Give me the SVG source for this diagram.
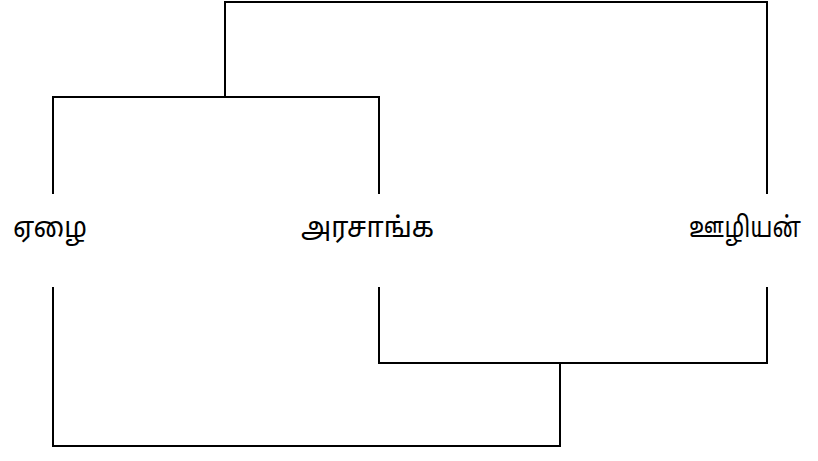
<svg xmlns="http://www.w3.org/2000/svg" width="818" height="461" viewBox="0 0 818 461">
<style>
.c{fill:none;stroke:#000;stroke-width:2;stroke-linecap:square}
.t{font-family:"Noto Sans Tamil","Lohit Tamil","Noto Sans","DejaVu Sans",sans-serif;font-size:28px;fill:#000}
</style>
<rect width="818" height="461" fill="#fff"/>
<g id="connectors">
<polyline class="c" points="53,193 53,97 379,97 379,193"/>
<polyline class="c" points="225,97 225,2 767,2 767,193"/>
<polyline class="c" points="53,288 53,446 560,446 560,363"/>
<polyline class="c" points="379,288 379,363 767,363 767,288"/>
</g>
<g id="n1"><text class="t" x="13" y="237" textLength="74" lengthAdjust="spacingAndGlyphs">ஏழை</text></g>
<g id="n2"><text class="t" x="301" y="237" textLength="133" lengthAdjust="spacingAndGlyphs">அரசாங்க</text></g>
<g id="n3"><text class="t" x="801" y="237" text-anchor="end" textLength="112" lengthAdjust="spacingAndGlyphs">ஊழியன்</text></g>
</svg>
